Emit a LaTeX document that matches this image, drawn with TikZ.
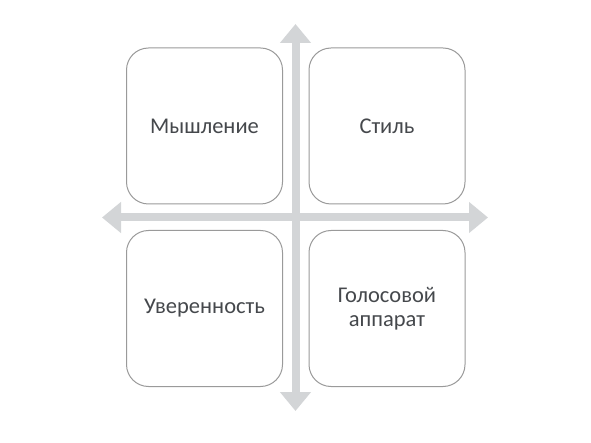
\documentclass[tikz,border=0pt]{standalone}
\usepackage{fontspec}
\setmainfont{Carlito}
\usetikzlibrary{arrows.meta}
\definecolor{arrowgray}{HTML}{D3D5D7}
\definecolor{boxgray}{HTML}{9A9A9A}
\definecolor{textgray}{HTML}{45484C}
\tikzset{
  quad/.style={draw=boxgray, line width=1pt, rounded corners=22pt, fill=white,
    minimum width=156pt, minimum height=156pt, inner sep=0pt, outer sep=0pt,
    align=center, text=textgray, font=\fontsize{22.5pt}{24.5pt}\selectfont},
  axis/.style={draw=arrowgray, line width=8pt,
    {Triangle[width=30pt,length=19pt]}-{Triangle[width=30pt,length=19pt]}}
}
\begin{document}
\begin{tikzpicture}[x=1pt,y=-1pt]
\useasboundingbox (0,0) rectangle (591,443);
\coordinate (top) at (295.5,24);
\coordinate (bot) at (295.5,411);
\coordinate (lft) at (102,217.5);
\coordinate (rgt) at (488,217.5);
\draw[axis] (lft) -- (rgt);
\draw[axis] (top) -- (bot);
\node[quad] (tl) at (204.5,126) {Мышление};
\node[quad] (tr) at (387,126) {Стиль};
\node[quad] (bl) at (204.5,308.5) {Уверенность};
\node[quad] (br) at (387,308.5) {Голосовой\\аппарат};
\end{tikzpicture}
\end{document}
